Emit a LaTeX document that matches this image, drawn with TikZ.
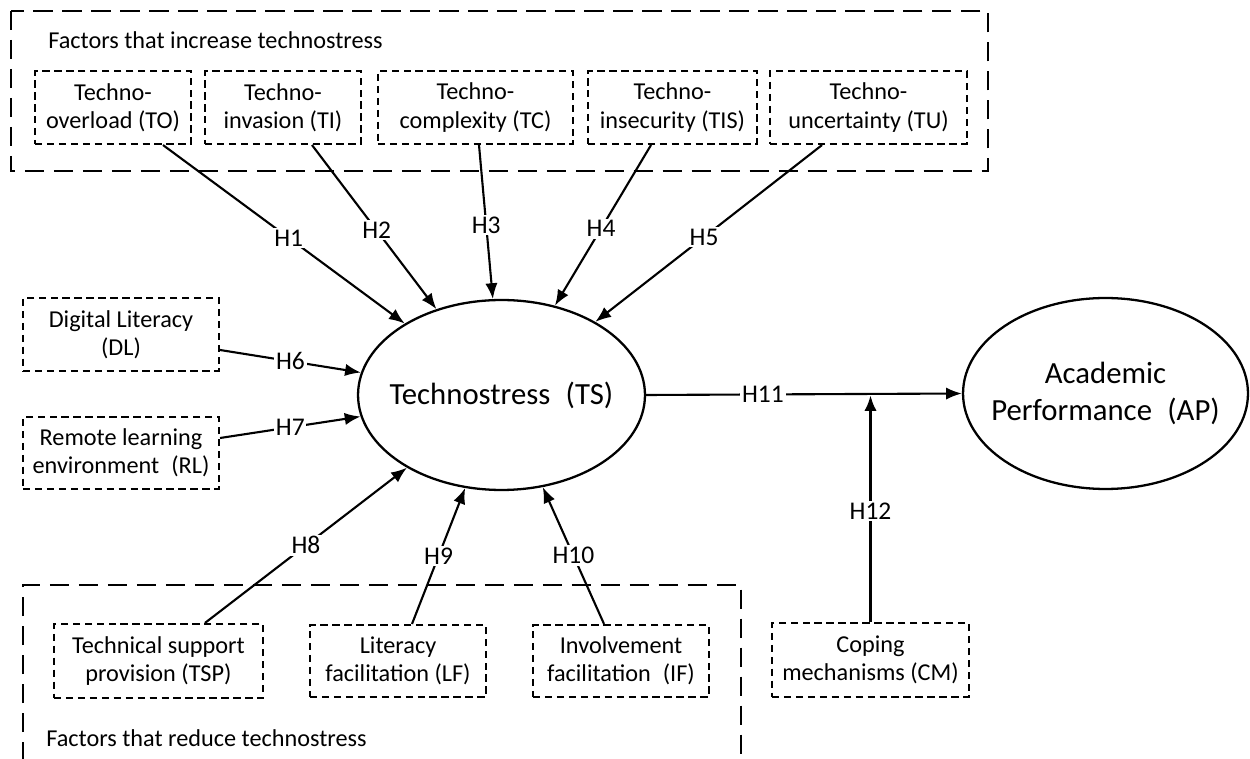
\documentclass[tikz,border=0pt]{standalone}
\usepackage{fontspec}
\setmainfont{Carlito}
\usetikzlibrary{shapes.geometric,arrows.meta,calc}
\newcommand\factorbox[6]{%
  \node[tbox, minimum width={(#4-#2)*0.02cm}, minimum height={(#5-#3)*0.02cm}]
    (#1) at ({(#2+#4)/2},{(#3+#5)/2}) {#6};}
\begin{document}
\begin{tikzpicture}[x=0.02cm,y=-0.02cm,
  outerbox/.style={draw, line width=1.5pt, dash pattern=on 11pt off 5.5pt},
  tbox/.style={draw, line width=1.2pt, dash pattern=on 4.2pt off 2.6pt, inner sep=0pt, align=center, font=\fontsize{13.8}{16}\selectfont},
  construct/.style={draw, ellipse, line width=1.3pt, inner sep=0pt},
  ctext/.style={align=center, inner sep=0pt, font=\fontsize{17.5}{21}\selectfont},
  conn/.style={line width=1.2pt, -{Latex[length=9pt,width=7pt]}},
  hyp/.style={fill=white, inner sep=1pt, font=\fontsize{14.5}{16}\selectfont},
  grouplabel/.style={anchor=west, inner sep=0pt, font=\fontsize{13.8}{16}\selectfont}]
\useasboundingbox (0,0) rectangle (1250,759);

% group frames
\draw[outerbox] (11,11) rectangle (988,171);
\draw[outerbox] (23,790) |- (741,585) -- (741,790);
\node[grouplabel] (inclabel) at (48,40) {Factors that increase technostress};
\node[grouplabel] (redlabel) at (46,738) {Factors that reduce technostress};

% top factors
\factorbox{TO}{35}{71}{191}{144}{Techno-\\overload (TO)}
\factorbox{TI}{205}{71}{361}{144}{Techno-\\invasion (TI)}
\factorbox{TC}{378}{71}{573}{144}{Techno-\\complexity (TC)}
\factorbox{TIS}{588}{71}{757}{144}{Techno-\\insecurity (TIS)}
\factorbox{TU}{770}{71}{967}{144}{Techno-\\uncertainty (TU)}

% left factors
\factorbox{DL}{23}{298}{219}{371}{Digital Literacy\\(DL)}
\factorbox{RL}{23}{417}{219}{489}{Remote learning\\environment\enspace(RL)}

% bottom factors
\factorbox{TSP}{54}{624}{263}{698}{Technical support\\provision (TSP)}
\factorbox{LF}{310}{625}{486}{697}{Literacy\\facilitation (LF)}
\factorbox{IF}{533}{625}{709}{697}{Involvement\\facilitation\enspace(IF)}
\factorbox{CM}{772}{623}{969}{697}{Coping\\mechanisms (CM)}

% constructs
\node[construct, minimum width=5.74cm, minimum height=3.8cm] (TS) at (501.5,395) {};
\node[ctext] (TStext) at (TS.center) {Technostress\enspace(TS)};
\node[construct, minimum width=5.7cm, minimum height=3.82cm] (AP) at (1105.5,393.5) {};
\node[ctext] (APtext) at (AP.center) {Academic\\Performance\enspace(AP)};

% connectors
\draw[conn] ([xshift=1cm]TO.south) -- node[hyp, pos=.52] {H1} (TS);
\draw[conn] ([xshift=0.58cm]TI.south) -- node[hyp, pos=.52] {H2} (TS);
\draw[conn] ([xshift=0.07cm]TC.south) -- node[hyp, pos=.52] {H3} (TS);
\draw[conn] ([xshift=-0.43cm]TIS.south) -- node[hyp, pos=.52] {H4} (TS);
\draw[conn] ([xshift=-0.93cm]TU.south) -- node[hyp, pos=.52] {H5} (TS);

\draw[conn] ([yshift=-0.31cm]DL.east) -- node[hyp, pos=.5] {H6} (TS);
\draw[conn] ([yshift=0.3cm]RL.east) -- node[hyp, pos=.5] {H7} (TS);

\draw[conn] ([xshift=0.93cm]TSP.north) -- node[hyp, pos=.5] {H8} (TS);
\draw[conn] ([xshift=0.28cm]LF.north) -- node[hyp, pos=.5] {H9} (TS);
\draw[conn] ([xshift=-0.34cm]IF.north) -- node[hyp, pos=.5] {H10} (TS);

\draw[conn] (TS.east) -- node[hyp, pos=.37] {H11} (AP.west);
\coordinate (mod) at (CM.north |- TS.east);
\draw[conn, line width=2pt] (CM.north) -- node[hyp, pos=.49] {H12} (mod);
\end{tikzpicture}
\end{document}
